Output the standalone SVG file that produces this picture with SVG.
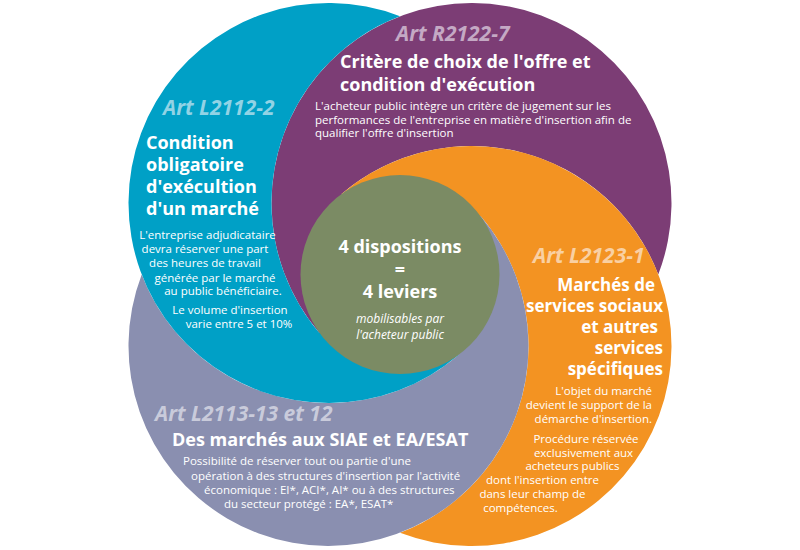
<svg xmlns="http://www.w3.org/2000/svg" xmlns:xlink="http://www.w3.org/1999/xlink" width="800" height="550" viewBox="0 0 800 550">
<style>
text{font-family:"Open Sans","Noto Sans","Liberation Sans",sans-serif;fill:#fff}
.art{font-size:21px;font-weight:700;font-style:italic}
.ttl{font-size:18px;font-weight:700}
.ttl2{font-size:17px;font-weight:700}
.ctr{font-size:18px;font-weight:700}
.sub{font-size:12px;font-style:italic}
.body{font-size:11.5px}
.blue{fill:#00A0C6}.purple{fill:#7C3D75}.orange{fill:#F39322}.gray{fill:#8A8FB0}.green{fill:#7B8B64}
</style>
<defs>
<path id="petal" d="M400,16.22 A200,200 0 1 0 458.45,355.03 L400,274.5 L319.47,332.95 A200,200 0 0 1 400,16.22 Z"/>
</defs>
<rect width="800" height="550" fill="#fff"/>
<g id="purple-r2122-7">
<use href="#petal" xlink:href="#petal" class="purple" transform="rotate(90 400 274.5)"/>
<text class="art" x="396" y="41" style="fill:#C4A9C4">Art R2122-7</text>
<text class="ttl" x="340" y="68">Critère de choix de l'offre et</text>
<text class="ttl" x="340" y="91">condition d'exécution</text>
<text class="body" x="315" y="110">L'acheteur public intègre un critère de jugement sur les</text>
<text class="body" x="315" y="123.5">performances de l'entreprise en matière d'insertion afin de</text>
<text class="body" x="315" y="137">qualifier l'offre d'insertion</text>
</g>
<g id="orange-l2123-1">
<use href="#petal" xlink:href="#petal" class="orange" transform="rotate(180 400 274.5)"/>
<text class="art" x="533" y="263" style="fill:#F9D0A3">Art L2123-1</text>
<g class="ttl2" text-anchor="end">
<text x="655" y="290.5">Marchés de</text>
<text x="663" y="311.5">services sociaux</text>
<text x="658" y="332.5">et autres</text>
<text x="663" y="353.5">services</text>
<text x="663" y="374.5">spécifiques</text>
</g>
<g class="body" text-anchor="end">
<text x="652" y="395">L'objet du marché</text>
<text x="652" y="408.5">devient le support de la</text>
<text x="652" y="422.5">démarche d'insertion.</text>
</g>
<g class="body" text-anchor="middle">
<text x="586" y="443">Procédure réservée</text>
<text x="583.5" y="456.5">exclusivement aux</text>
<text x="572.5" y="470">acheteurs publics</text>
<text x="542.5" y="484">dont l'insertion entre</text>
<text x="532.5" y="498">dans  leur champ de</text>
<text x="520.5" y="512">compétences.</text>
</g>
</g>
<g id="gray-l2113-13">
<use href="#petal" xlink:href="#petal" class="gray" transform="rotate(270 400 274.5)"/>
<text class="art" x="155" y="421" style="fill:#C9CBDB">Art L2113-13 et 12</text>
<text class="ttl" x="172" y="446">Des marchés aux SIAE et EA/ESAT</text>
<text class="body" x="183" y="465">Possibilité de réserver tout ou partie d'une</text>
<text class="body" x="191" y="480">opération à des structures d'insertion par l'activité</text>
<text class="body" x="204" y="493.5">économique : EI*, ACI*, AI* ou à des structures</text>
<text class="body" x="224" y="507.5">du secteur protégé : EA*, ESAT*</text>
</g>
<g id="blue-l2112-2">
<use href="#petal" xlink:href="#petal" class="blue"/>
<text class="art" x="163" y="115" style="fill:#92D3E5">Art L2112-2</text>
<text class="ttl" x="146" y="149">Condition</text>
<text class="ttl" x="146" y="171">obligatoire</text>
<text class="ttl" x="146" y="193">d'exécultion</text>
<text class="ttl" x="146" y="215">d'un marché</text>
<g class="body" text-anchor="middle">
<text x="207.5" y="239">L'entreprise adjudicataire</text>
<text x="205" y="253">devra réserver une part</text>
<text x="205" y="267">des  heures de travail</text>
<text x="215" y="281.5">générée  par le marché</text>
<text x="223" y="295">au public  bénéficiaire.</text>
<text x="230" y="313.5">Le volume d'insertion</text>
<text x="239" y="328">varie entre 5 et 10%</text>
</g>
</g>
<g id="center">
<circle class="green" cx="400" cy="274.5" r="99.5"/>
<g text-anchor="middle">
<text class="ctr" x="400" y="253">4 dispositions</text>
<text class="ctr" x="400" y="275.5">=</text>
<text class="ctr" x="400" y="297.5">4 leviers</text>
<text class="sub" x="400" y="322.5">mobilisables par</text>
<text class="sub" x="400" y="338.5">l'acheteur public</text>
</g>
</g>
</svg>
